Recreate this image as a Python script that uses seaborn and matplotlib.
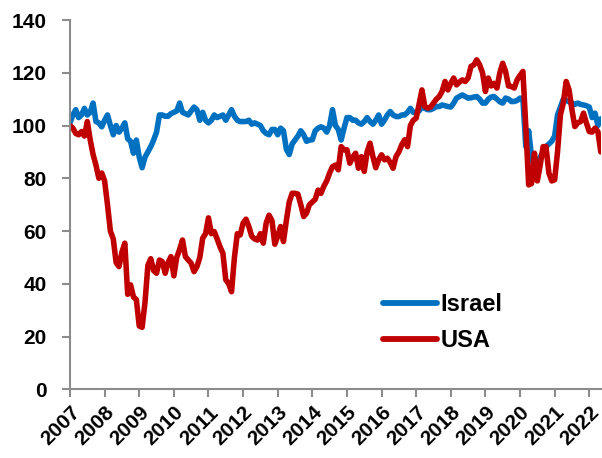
import numpy as np
import pandas as pd
import matplotlib
matplotlib.use("Agg")
import matplotlib.pyplot as plt
import seaborn as sns

years = list(range(2007, 2023))
start_year = 2007

israel = [
    101, 104, 106, 103, 104, 106.5, 104, 105, 108.5, 101.5, 101, 99.5,
    102, 104, 100, 96.5, 100, 97.5, 99, 101, 95, 94, 89.5, 94.5,
    88, 84, 88, 90, 92, 94.5, 97.5, 104, 104, 103.5, 103.5, 104.5,
    105, 105.5, 108.5, 105, 104.5, 104, 105.5, 107, 106, 102, 105, 102,
    101, 102, 104, 103, 103.5, 104, 102, 104, 106, 103.5, 102, 101.5,
    101.5, 101.5, 102, 100.5, 101, 100.5, 100, 98, 97, 96.5, 98.5, 98.5,
    96.5, 99, 98, 91, 89, 93, 94.5, 96, 98, 96.5, 94, 94.5,
    94.6, 98, 99, 99.5, 99, 97.5, 100, 106, 100, 98.5, 94.5, 99,
    103, 103, 102, 102, 101, 100.5, 101.5, 103, 101.5, 100.5, 102, 104,
    100.5, 102, 104, 105.3, 104, 103.4, 103.4, 104, 104, 105, 106.5, 105,
    104.7, 105.5, 107, 106.5, 106, 106, 106.5, 107.2, 107.2, 107.8, 107.5, 107.2,
    107, 108.5, 110.4, 111, 111.6, 111, 110.4, 110.5, 110.8, 111, 110, 108.5,
    108.5, 110, 110.8, 111, 110, 109, 108.5, 110.4, 110, 109.1, 109.1, 109.5,
    110.4, 110, 92, 98, 88, 84, 86, 88, 90, 92, 93, 94,
    96, 104, 107, 110, 109.5, 109, 108.5, 108, 108.5, 108, 107.8, 107.5,
    107, 103, 104.7, 100, 102.5,
]

usa = [
    100, 99, 97, 96.5, 97.7, 96, 101.5, 94.6, 89, 85, 80, 82,
    79, 70, 60, 57, 48, 46.5, 52, 55.4, 36, 39.6, 35, 34,
    24, 23.5, 33, 47, 49.5, 45, 44, 49, 48.4, 44, 48, 50.3,
    43, 50, 53, 56.6, 50.3, 49, 47.8, 44.6, 46.5, 50, 57.3, 59,
    65, 59, 59.8, 57, 54, 51.6, 41.5, 40, 37, 50, 59, 58.5,
    63, 64.5, 61.7, 58, 57, 56.6, 59, 55.4, 63, 66, 64, 55,
    58, 61.7, 56, 64, 71, 74.3, 74.3, 74, 70, 65.5, 66.8, 70,
    71, 72, 75.5, 74.3, 77, 79, 82, 84.4, 85, 83.2, 92, 90.8,
    90.8, 85.7, 88, 89.5, 83.8, 88.2, 82.6, 90, 93.3, 88.2, 84, 87,
    88.9, 87, 87.6, 86, 83.8, 88.2, 90, 92.7, 94.6, 92, 100, 102,
    102.8, 108, 113.5, 107.2, 106.6, 107, 108.5, 110, 111, 113, 116.7, 113.5,
    116, 118, 115.4, 116.5, 117.3, 116.7, 118, 122.4, 123, 124.9, 123, 120,
    112.9, 118, 115, 116, 114.2, 120, 123.6, 120.5, 115, 114.8, 114.2, 117.3,
    119, 120.5, 99.6, 77.5, 78, 89.5, 79, 85, 92, 92, 82, 79,
    79.4, 90, 104, 108.5, 116.7, 113.5, 106, 99.6, 101, 101.5, 104.7, 101,
    97.7, 97.5, 99, 97.7, 90,
]

yticks = [0, 20, 40, 60, 80, 100, 120, 140]

n = len(israel)
t = start_year + np.arange(n) / 12.0
df = pd.DataFrame({
    "t": np.concatenate([t, t]),
    "value": israel + usa,
    "country": ["Israel"] * n + ["USA"] * n,
})

sns.set_theme(style="white")
plt.rcParams["font.family"] = ["Liberation Sans", "DejaVu Sans"]
plt.rcParams["font.weight"] = "bold"
plt.rcParams["text.color"] = "black"
plt.rcParams["xtick.color"] = "black"
plt.rcParams["ytick.color"] = "black"

fig = plt.figure(figsize=(6.02, 4.58), dpi=100)
ax = fig.add_axes([70 / 602, 1 - 389.3 / 458, 1 - 70 / 602 - 0.002, (389.3 - 20) / 458])

sns.lineplot(data=df, x="t", y="value", hue="country",
             palette={"Israel": "#0070C0", "USA": "#C00000"},
             linewidth=4, ax=ax, estimator=None, sort=False)

ax.set_xlim(start_year, t[-1])
ax.set_ylim(0, 140)
ax.set_yticks(yticks)
ax.set_yticklabels([str(v) for v in yticks], fontsize=15, fontweight="bold",
                   color="black")
ax.set_xticks(years)
ax.set_xticklabels([str(y) for y in years], fontsize=15, fontweight="bold",
                   color="black", rotation=45, ha="right",
                   rotation_mode="anchor")
ax.set_xlabel("")
ax.set_ylabel("")

for s in ["top", "right"]:
    ax.spines[s].set_visible(False)
for s in ["left", "bottom"]:
    ax.spines[s].set_color("#8c8c8c")
    ax.spines[s].set_linewidth(1.5)
ax.tick_params(axis="both", which="major", direction="out", length=5.8,
               width=1.5, color="#8c8c8c", bottom=True, left=True)
ax.tick_params(axis="y", pad=11)
ax.tick_params(axis="x", pad=4)

leg = ax.legend(loc="upper left", bbox_to_anchor=(0.549, 0.317), frameon=False,
                fontsize=17, handlelength=2.3, handletextpad=0.15,
                labelspacing=0.55)
for txt in leg.get_texts():
    txt.set_fontweight("bold")
    txt.set_color("black")
for line in leg.get_lines():
    line.set_linewidth(4.2)
    line.set_solid_capstyle("round")

fig.savefig("out.png", dpi=100)
